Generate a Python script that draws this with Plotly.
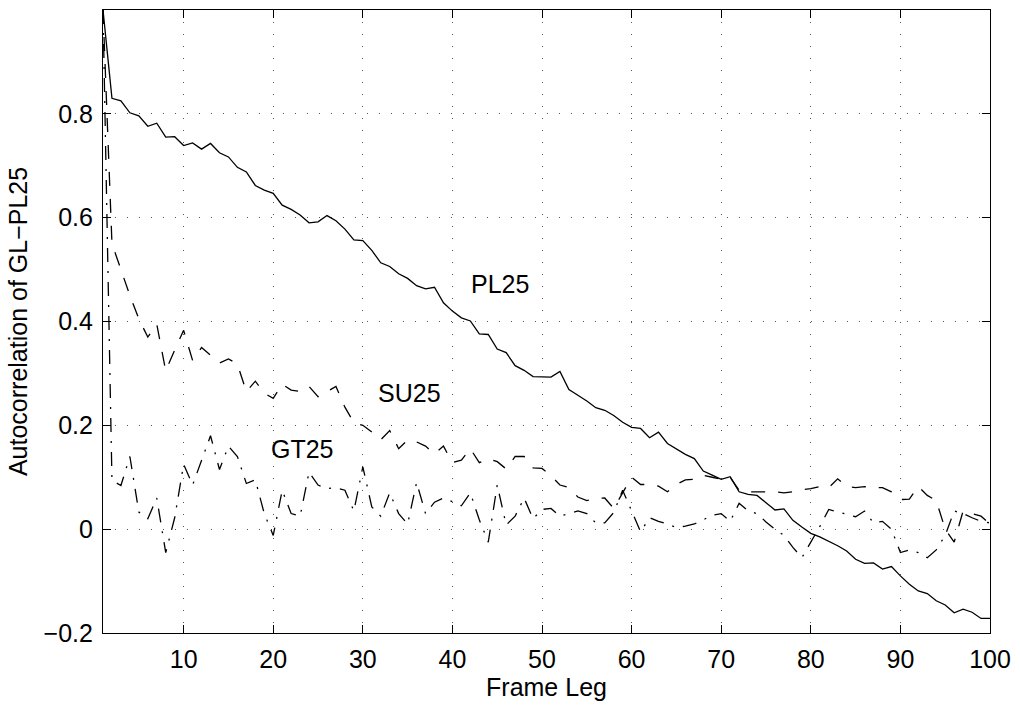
import plotly.graph_objects as go

frame_leg = list(range(1, 101))

pl25 = [1.000, 0.830, 0.825, 0.802, 0.796, 0.776, 0.782, 0.755, 0.756, 0.739,
        0.744, 0.732, 0.743, 0.725, 0.717, 0.697, 0.688, 0.662, 0.653, 0.647,
        0.624, 0.616, 0.605, 0.590, 0.592, 0.604, 0.594, 0.578, 0.557, 0.556,
        0.537, 0.513, 0.506, 0.492, 0.483, 0.469, 0.463, 0.466, 0.436, 0.420,
        0.407, 0.401, 0.376, 0.375, 0.347, 0.340, 0.315, 0.306, 0.294, 0.293,
        0.293, 0.304, 0.269, 0.258, 0.247, 0.234, 0.229, 0.219, 0.206, 0.196,
        0.194, 0.176, 0.187, 0.165, 0.155, 0.144, 0.136, 0.112, 0.104, 0.096,
        0.101, 0.072, 0.067, 0.065, 0.051, 0.037, 0.039, 0.017, 0.004, -0.008,
        -0.015, -0.023, -0.032, -0.042, -0.058, -0.066, -0.065, -0.077, -0.072, -0.090,
        -0.106, -0.119, -0.124, -0.138, -0.146, -0.161, -0.154, -0.160, -0.172, -0.172]

su25 = [1.000, 0.550, 0.500, 0.450, 0.405, 0.370, 0.395, 0.305, 0.345, 0.383,
        0.325, 0.350, 0.335, 0.320, 0.328, 0.318, 0.265, 0.285, 0.262, 0.252,
        0.279, 0.268, 0.265, 0.275, 0.255, 0.265, 0.275, 0.235, 0.205, 0.200,
        0.187, 0.172, 0.190, 0.155, 0.172, 0.168, 0.160, 0.145, 0.160, 0.128,
        0.133, 0.155, 0.128, 0.136, 0.130, 0.116, 0.140, 0.140, 0.118, 0.117,
        0.103, 0.085, 0.080, 0.062, 0.055, 0.059, 0.060, 0.040, 0.070, 0.100,
        0.086, 0.086, 0.083, 0.072, 0.086, 0.095, 0.096, 0.104, 0.100, 0.096,
        0.100, 0.075, 0.072, 0.072, 0.072, 0.072, 0.070, 0.072, 0.076, 0.078,
        0.082, 0.080, 0.097, 0.082, 0.080, 0.082, 0.080, 0.080, 0.072, 0.057,
        0.058, 0.082, 0.065, 0.055, 0.000, -0.025, 0.035, 0.030, 0.025, 0.010]

gt25 = [1.000, 0.094, 0.084, 0.140, 0.033, 0.020, 0.060, -0.045, 0.022, 0.125,
        0.085, 0.132, 0.180, 0.115, 0.160, 0.140, 0.088, 0.095, 0.030, -0.012,
        0.075, 0.030, 0.025, 0.110, 0.085, 0.078, 0.080, 0.075, 0.035, 0.120,
        0.043, 0.025, 0.070, 0.030, 0.010, 0.090, 0.030, 0.052, 0.060, 0.053,
        0.045, 0.070, 0.018, -0.025, 0.085, 0.008, 0.025, 0.060, 0.020, 0.038,
        0.040, 0.025, 0.030, 0.035, 0.030, 0.012, 0.012, 0.032, 0.075, 0.035,
        -0.005, 0.022, 0.015, 0.010, 0.003, 0.006, 0.010, 0.018, 0.027, 0.030,
        0.015, 0.050, 0.035, 0.030, 0.014, 0.000, -0.012, -0.035, -0.055, -0.025,
        0.005, 0.038, 0.033, 0.028, 0.024, 0.035, 0.012, 0.015, 0.000, -0.045,
        -0.040, -0.045, -0.055, -0.040, -0.012, 0.035, 0.030, 0.022, 0.015, 0.012]

x_ticks = [10, 20, 30, 40, 50, 60, 70, 80, 90, 100]
y_ticks = [-0.2, 0, 0.2, 0.4, 0.6, 0.8]
y_tick_text = ["\u22120.2", "0", "0.2", "0.4", "0.6", "0.8"]

labels = ["PL25", "SU25", "GT25"]
label_x = [45.3, 35.2, 23.3]
label_y = [0.473, 0.263, 0.155]

FONT = "Liberation Sans, Arial, Helvetica, sans-serif"

fig = go.Figure()
fig.add_trace(go.Scatter(x=frame_leg, y=pl25, mode="lines", name="PL25",
                         line=dict(color="black", width=1.3, dash="solid")))
fig.add_trace(go.Scatter(x=frame_leg, y=su25, mode="lines", name="SU25",
                         line=dict(color="black", width=1.3, dash="14px,13px")))
fig.add_trace(go.Scatter(x=frame_leg, y=gt25, mode="lines", name="GT25",
                         line=dict(color="black", width=1.3, dash="14px,9px,2px,9px")))

for t, xv, yv in zip(labels, label_x, label_y):
    fig.add_annotation(x=xv, y=yv, text=t, showarrow=False,
                       xanchor="center", yanchor="middle",
                       font=dict(family=FONT, size=25, color="black"))

axis_common = dict(
    showline=True, linecolor="black", linewidth=1.2, mirror="ticks",
    ticks="inside", ticklen=8, tickwidth=1.2, tickcolor="black",
    showgrid=True, gridcolor="#555555", gridwidth=1, griddash="1px,11px",
    zeroline=False,
    tickfont=dict(family=FONT, size=25, color="black"),
)

fig.update_xaxes(range=[1, 100], tickmode="array", tickvals=x_ticks,
                 ticktext=[str(v) for v in x_ticks],
                 title=dict(text="Frame Leg", font=dict(family=FONT, size=25, color="black"),
                            standoff=4),
                 ticklabelstandoff=4,
                 **axis_common)
fig.update_yaxes(range=[-0.2, 1.0], tickmode="array", tickvals=y_ticks,
                 ticktext=y_tick_text,
                 title=dict(text="Autocorrelation of GL\u2212PL25",
                            font=dict(family=FONT, size=25, color="black"),
                            standoff=8),
                 ticklabelstandoff=4,
                 **axis_common)

fig.update_layout(
    width=1020, height=705,
    margin=dict(l=103, r=25, t=9, b=72),
    paper_bgcolor="white", plot_bgcolor="white",
    showlegend=False,
    font=dict(family=FONT, size=25, color="black"),
)

fig.write_html("out.html")
